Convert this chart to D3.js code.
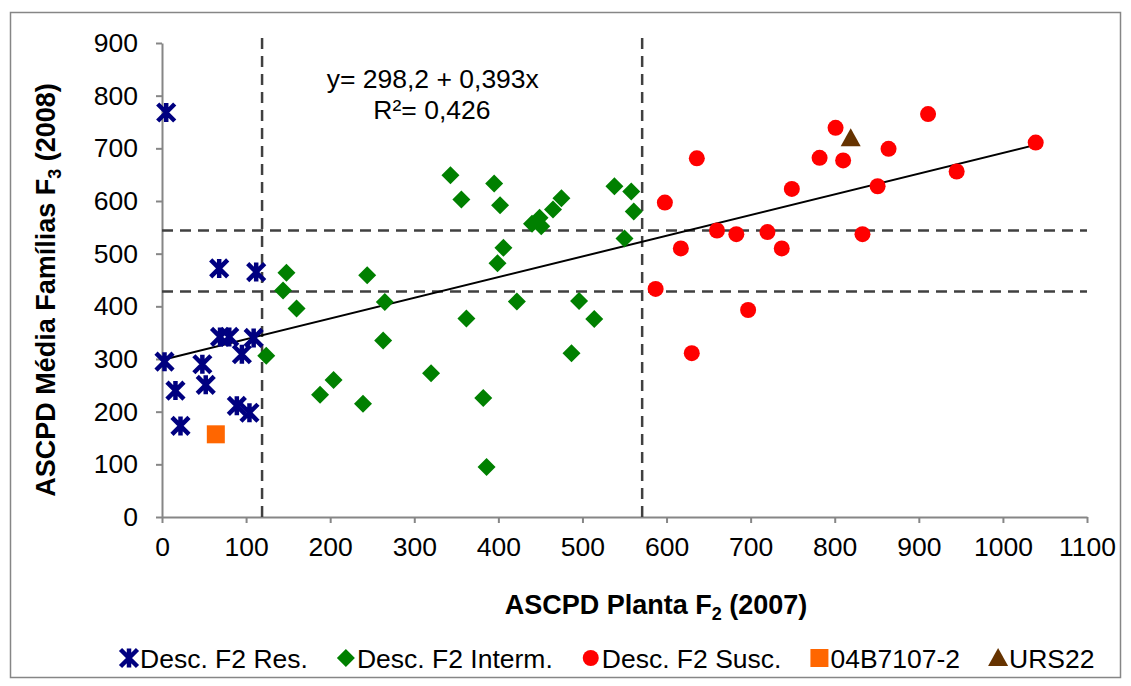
<!DOCTYPE html>
<html>
<head>
<meta charset="utf-8">
<script src="https://cdn.jsdelivr.net/npm/d3@7"></script>
<style>
	body { margin: 0; background: #fff; }
	text { font-family: "Liberation Sans", Arial, sans-serif; fill: #000; }
	.axis path, .axis line { stroke: #868686; stroke-width: 2; }
	.axis text { font-size: 26.5px; }
</style>
</head>
<body>
<div id="chart-area"></div>
<script>
// Desc. F2 Res. (blue crosses)
let resX = [5, 68, 112, 69, 80, 109, 95, 3, 48, 52, 16, 89, 104, 22];
let resY = [768, 472, 465, 342, 342, 340, 309, 295, 290, 251, 240, 211, 198, 173];

// Desc. F2 Interm. (green diamonds)
let intermX = [148, 144, 160, 124, 343, 356, 244, 265, 263, 362, 204, 188, 239, 320, 395, 402,
	440, 449, 451, 465, 475, 538, 558, 561, 550, 406, 399, 422, 496, 514, 487, 382, 386];
let intermY = [464, 430, 396, 306, 649, 603, 459, 408, 335, 377, 260, 232, 215, 273, 633, 592,
	557, 568, 552, 584, 605, 628, 618, 580, 529, 511, 482, 409, 410, 376, 311, 226, 95];

// Desc. F2 Susc. (red circles)
let suscX = [636, 598, 660, 683, 720, 617, 737, 587, 697, 630, 801, 911, 1039, 782, 810, 864, 749, 851, 945, 833];
let suscY = [681, 597, 544, 537, 541, 510, 510, 433, 393, 311, 739, 765, 711, 682, 677, 699, 623, 628, 656, 537];

// parents
let parentResX = [64], parentResY = [157];     // 04B7107-2
let parentSuscX = [819], parentSuscY = [719];  // URS22

// regression and class limits
let intercept = 298.2, slope = 0.393;
let cutX = [119, 571];
let cutY = [428, 544];

let xTicks = d3.range(0, 1101, 100);
let yTicks = d3.range(0, 901, 100);

let seriesNames = ["Desc. F2 Res.", "Desc. F2 Interm.", "Desc. F2 Susc.", "04B7107-2", "URS22"];
let seriesColors = ["#000080", "#008000", "#ff0000", "#ff6600", "#663300"];

let width_raw = 1131, height_raw = 686;
let margin = {top: 43, right: 44, bottom: 169, left: 162};
let width = width_raw - margin.left - margin.right,
	height = height_raw - margin.top - margin.bottom;

let root = d3.select("#chart-area")
	.append("svg")
	.attr("width", width_raw)
	.attr("height", height_raw);

// chart border
root.append("rect")
	.attr("x", 10.5).attr("y", 12.5)
	.attr("width", 1110).attr("height", 665)
	.attr("fill", "none")
	.attr("stroke", "#868686")
	.attr("stroke-width", 1.5);

let svg = root.append("g")
	.attr("transform", "translate(" + margin.left + "," + margin.top + ")");

let x = d3.scaleLinear().domain([0, 1100]).range([0, width]);
let y = d3.scaleLinear().domain([0, 900]).range([height, 0]);

// axes
svg.append("g")
	.attr("class", "axis x-axis")
	.attr("transform", "translate(0," + height + ")")
	.call(d3.axisBottom(x).tickValues(xTicks).tickFormat(d3.format("d"))
		.tickSize(6).tickSizeOuter(0).tickPadding(14));

svg.append("g")
	.attr("class", "axis y-axis")
	.call(d3.axisLeft(y).tickValues(yTicks).tickFormat(d3.format("d"))
		.tickSize(6).tickSizeOuter(0).tickPadding(18));

// dashed limit lines
svg.selectAll(".cut-x")
	.data(cutX)
	.enter()
	.append("line")
	.attr("x1", d => x(d)).attr("x2", d => x(d))
	.attr("y1", y(0)).attr("y2", y(911))
	.attr("stroke", "#404040").attr("stroke-width", 2.5)
	.attr("stroke-dasharray", "11,7");

svg.selectAll(".cut-y")
	.data(cutY)
	.enter()
	.append("line")
	.attr("x1", x(0)).attr("x2", x(1100))
	.attr("y1", d => y(d)).attr("y2", d => y(d))
	.attr("stroke", "#404040").attr("stroke-width", 2.5)
	.attr("stroke-dasharray", "11,7");

// regression line
let xMax = d3.max(suscX);
svg.append("line")
	.attr("x1", x(0)).attr("y1", y(intercept))
	.attr("x2", x(xMax)).attr("y2", y(intercept + slope * xMax))
	.attr("stroke", "#000").attr("stroke-width", 2);

// marker shapes
function drawMarker(g, kind, color) {
	if (kind === 0) {
		g.append("path")
			.attr("d", "M-8.5,-8.5L8.5,8.5M8.5,-8.5L-8.5,8.5M0,-9.5L0,9.5")
			.attr("stroke", color).attr("stroke-width", 4.5).attr("fill", "none");
	} else if (kind === 1) {
		g.append("path").attr("d", "M0,-9L9,0L0,9L-9,0Z").attr("fill", color);
	} else if (kind === 2) {
		g.append("circle").attr("r", 8).attr("fill", color);
	} else if (kind === 3) {
		g.append("rect").attr("x", -9).attr("y", -9).attr("width", 18).attr("height", 18).attr("fill", color);
	} else {
		g.append("path").attr("d", "M0,-10L10,8L-10,8Z").attr("fill", color);
	}
}

let allSeries = [
	[resX, resY], [intermX, intermY], [suscX, suscY], [parentResX, parentResY], [parentSuscX, parentSuscY]
];
let drawOrder = [1, 2, 0, 3, 4];

drawOrder.forEach(k => {
	let xs = allSeries[k][0], ys = allSeries[k][1];
	svg.append("g")
		.selectAll("g")
		.data(xs.map((v, i) => [v, ys[i]]))
		.enter()
		.append("g")
		.attr("transform", d => "translate(" + x(d[0]) + "," + y(d[1]) + ")")
		.each(function () { drawMarker(d3.select(this), k, seriesColors[k]); });
});

// regression text
svg.append("text")
	.attr("x", x(322)).attr("y", 88 - margin.top)
	.attr("text-anchor", "middle")
	.style("font-size", "26.5px")
	.text("y= 298,2 + 0,393x");
svg.append("text")
	.attr("x", x(321)).attr("y", 119 - margin.top)
	.attr("text-anchor", "middle")
	.style("font-size", "26.5px")
	.text("R²= 0,426");

// axis titles
let xTitle = root.append("text")
	.attr("x", 656).attr("y", 614)
	.attr("text-anchor", "middle")
	.style("font-size", "27px").style("font-weight", "bold");
xTitle.append("tspan").text("ASCPD Planta F");
xTitle.append("tspan").attr("dy", 6).style("font-size", "18px").text("2");
xTitle.append("tspan").attr("dy", -6).text(" (2007)");

let yTitle = root.append("text")
	.attr("transform", "translate(55,290)rotate(-90)")
	.attr("text-anchor", "middle")
	.style("font-size", "27px").style("font-weight", "bold");
yTitle.append("tspan").text("ASCPD Média Famílias F");
yTitle.append("tspan").attr("dy", 6).style("font-size", "18px").text("3");
yTitle.append("tspan").attr("dy", -6).text(" (2008)");

// legend
let legend = root.append("g").attr("class", "legend");
let cx = 129;
seriesNames.forEach((name, k) => {
	let item = legend.append("g").attr("transform", "translate(" + cx + ",658)");
	drawMarker(item, k, seriesColors[k]);
	let t = item.append("text")
		.attr("x", 11).attr("y", 9.5)
		.style("font-size", "26.5px")
		.text(name);
	cx += 11 + t.node().getComputedTextLength() + 38;
});
</script>
</body>
</html>
